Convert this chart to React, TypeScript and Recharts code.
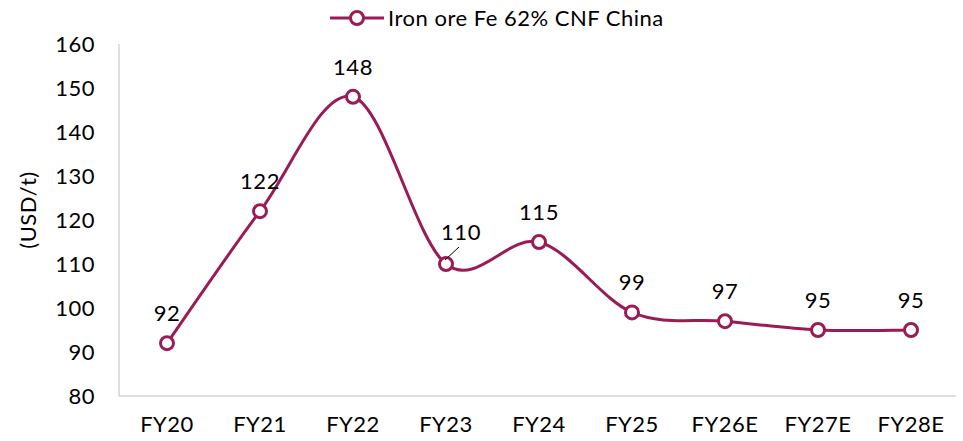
import React from "react";
import { LineChart, Line, XAxis, YAxis, Legend, LabelList } from "recharts";

const years = ["FY20", "FY21", "FY22", "FY23", "FY24", "FY25", "FY26E", "FY27E", "FY28E"];
const ironOre = [92, 122, 148, 110, 115, 99, 97, 95, 95];
const yTicks = [80, 90, 100, 110, 120, 130, 140, 150, 160];

const SERIES = "Iron ore Fe 62% CNF China";
const RED = "#9b1b55";
const FONT = "Lato, 'Open Sans', sans-serif";
const FS = 22;
const LS = 0.5;

const data = years.map((y, i) => ({ year: y, v: ironOre[i] }));

// excel-ish smoothing (catmull-rom style bezier)
const smooth = (ctx: any) => {
  let pts: number[][] = [];
  return {
    areaStart() {}, areaEnd() {},
    lineStart() { pts = []; },
    point(x: number, y: number) { pts.push([+x, +y]); },
    lineEnd() {
      if (!pts.length) return;
      ctx.moveTo(pts[0][0], pts[0][1]);
      for (let i = 0; i < pts.length - 1; i++) {
        const p0 = pts[i - 1] || pts[i], p1 = pts[i], p2 = pts[i + 1], p3 = pts[i + 2] || p2;
        ctx.bezierCurveTo(
          p1[0] + (p2[0] - p0[0]) / 6, p1[1] + (p2[1] - p0[1]) / 6,
          p2[0] - (p3[0] - p1[0]) / 6, p2[1] - (p3[1] - p1[1]) / 6,
          p2[0], p2[1]);
      }
    },
  };
};

const PointLabel = (p: any) => {
  const { x, y, value, index } = p;
  if (index === 3) {
    return <g>
      <line x1={x - 1} y1={y - 4} x2={x + 13} y2={y - 17} stroke="#000" strokeWidth={1} />
      <text x={x + 15} y={y - 24} textAnchor="middle" fontSize={FS} letterSpacing={LS} fontFamily={FONT} fill="#000">{value}</text>
    </g>;
  }
  return <text x={x} y={y - 22} textAnchor="middle" fontSize={FS} letterSpacing={LS} fontFamily={FONT} fill="#000">{value}</text>;
};

const LegendBox = () => <div style={{ height: 44, display: "flex", alignItems: "flex-start", paddingLeft: 330, paddingTop: 5, boxSizing: "border-box" }}>
  <svg width={56} height={26}><line x1={0} y1={13} x2={54} y2={13} stroke={RED} strokeWidth={3} /><circle cx={27} cy={13} r={6.5} fill="#fff" stroke={RED} strokeWidth={3} /></svg>
  <span style={{ fontFamily: FONT, fontSize: FS, letterSpacing: LS, color: "#000", lineHeight: "26px", marginLeft: 2 }}>{SERIES}</span>
</div>;

export default function App() {
  return <div>
    <style>{"body{margin:0}"}</style>
    <LineChart width={963} height={441} data={data} margin={{ top: 0, right: 7, bottom: 5, left: 0 }}>
      <Legend verticalAlign="top" content={<LegendBox />} wrapperStyle={{ top: 0, left: 0, width: 963 }} />
      <XAxis dataKey="year" stroke="#bfbfbf" tickLine={false} tickSize={0} tickMargin={20} height={40}
        padding={{ left: 48, right: 45 }}
        tick={{ fontSize: FS, letterSpacing: LS, fontFamily: FONT, fill: "#000" }} interval={0} />
      <YAxis domain={[80, 160]} ticks={yTicks} width={119} stroke="#bfbfbf" tickLine={false} tickSize={0} tickMargin={24}
        tick={{ fontSize: FS, letterSpacing: LS, fontFamily: FONT, fill: "#000" }}
        label={{ content: () => <text x={27} y={210} transform="rotate(-90 27 210)" textAnchor="middle" dominantBaseline="central" fontSize={FS} letterSpacing={LS} fontFamily={FONT} fill="#000">(USD/t)</text> }} />
      <Line dataKey="v" name={SERIES} type={smooth as any} stroke={RED} strokeWidth={3} isAnimationActive={false}
        dot={{ r: 6.5, fill: "#fff", stroke: RED, strokeWidth: 3 }} activeDot={false}>
        <LabelList dataKey="v" content={PointLabel} />
      </Line>
    </LineChart>
  </div>;
}
